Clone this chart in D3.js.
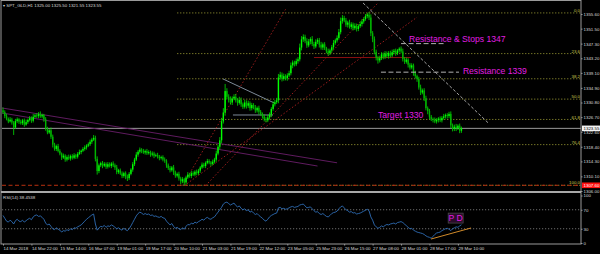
<!DOCTYPE html>
<html>
<head>
<meta charset="utf-8">
<script src="https://d3js.org/d3.v7.min.js"></script>
<style>
  body { margin: 0; background: #000; }
  svg { display: block; font-family: "Liberation Sans", Arial, sans-serif; }
</style>
</head>
<body>
<div id="chart"></div>
<script>
// ---- data (H1 gold, 259 bars) ----
const timeLabels = ["14 Mar 2018", "14 Mar 22:00", "15 Mar 14:00", "16 Mar 07:00", "19 Mar 01:00", "19 Mar 17:00",
  "20 Mar 10:00", "21 Mar 03:00", "21 Mar 19:00", "22 Mar 12:00", "23 Mar 05:00", "25 Mar 23:00",
  "26 Mar 15:00", "27 Mar 08:00", "28 Mar 01:00", "28 Mar 17:00", "29 Mar 10:00"];
const labelEvery = 16;

const firstOpen = 1328.6;
const closes = [
  1328.1, 1327.0, 1326.2, 1325.5, 1326.0, 1325.2, 1323.8, 1325.6, 1326.1, 1325.4,
  1325.0, 1325.8, 1324.6, 1325.3, 1325.9, 1326.4, 1325.7, 1326.8, 1327.2, 1327.0,
  1327.6, 1326.9, 1327.3, 1326.1, 1323.5, 1322.4, 1323.0, 1321.2, 1319.0, 1317.8,
  1318.6, 1317.2, 1316.5, 1315.4, 1315.9, 1314.8, 1315.5, 1315.1, 1315.8, 1315.3,
  1316.0, 1315.6, 1316.4, 1316.9, 1317.3, 1317.8, 1318.2, 1318.7, 1319.1, 1319.8,
  1320.4, 1320.9, 1315.0, 1311.6, 1313.2, 1313.8, 1313.1, 1313.6, 1312.8, 1313.5,
  1313.0, 1313.7, 1313.2, 1312.6, 1311.3, 1311.8, 1310.9, 1310.2, 1311.0, 1310.0,
  1309.6, 1310.8, 1312.0, 1313.5, 1314.8, 1316.2, 1317.0, 1317.6, 1317.3, 1316.8,
  1317.2, 1316.6, 1316.9, 1316.2, 1316.5, 1315.9, 1316.1, 1315.6, 1315.2, 1315.5,
  1314.8, 1314.5, 1313.2, 1312.4, 1311.8, 1312.6, 1311.2, 1310.3, 1310.8, 1309.5,
  1308.7, 1309.3, 1308.4, 1309.8, 1310.6, 1310.2, 1311.0, 1310.6, 1311.4, 1311.0,
  1311.7, 1312.6, 1313.4, 1313.0, 1313.9, 1314.4, 1314.0, 1313.6, 1314.2, 1314.8,
  1316.5, 1318.4, 1320.2, 1325.5, 1328.0, 1334.0, 1332.4, 1331.6, 1330.8, 1331.9,
  1332.4, 1331.4, 1330.7, 1331.5, 1330.3, 1329.6, 1330.8, 1329.9, 1330.6, 1329.2,
  1330.1, 1329.4, 1328.6, 1329.3, 1328.2, 1327.6, 1326.9, 1326.2, 1325.8, 1326.6,
  1327.4, 1329.0, 1330.3, 1330.9, 1331.4, 1337.8, 1338.6, 1337.4, 1338.2, 1337.6,
  1338.4, 1339.0, 1341.2, 1342.0, 1341.5, 1342.4, 1342.9, 1346.2, 1348.5, 1349.2,
  1348.0, 1346.8, 1347.9, 1348.6, 1347.2, 1346.5, 1347.8, 1348.3, 1347.0, 1346.2,
  1347.1, 1346.0, 1345.2, 1344.6, 1345.4, 1346.3, 1347.5, 1348.2, 1348.9, 1350.5,
  1353.6, 1354.5, 1353.8, 1352.6, 1353.2, 1352.0, 1352.7, 1351.6, 1352.3, 1351.4,
  1352.2, 1352.8, 1353.5, 1354.2, 1355.0, 1355.4, 1354.6, 1350.2, 1348.6, 1345.0,
  1343.4, 1342.6, 1343.2, 1344.3, 1343.6, 1344.5, 1343.8, 1344.7, 1344.0, 1344.9,
  1345.3, 1344.6, 1345.4, 1345.9, 1345.1, 1343.0, 1342.2, 1342.8, 1341.4, 1340.6,
  1341.2, 1339.0, 1338.2, 1337.4, 1335.0, 1333.6, 1334.2, 1332.0, 1329.2, 1328.4,
  1326.8, 1326.2, 1326.0, 1325.5, 1325.9, 1326.3, 1325.8, 1326.5, 1326.9, 1327.3,
  1327.0, 1327.6, 1324.4, 1323.4, 1324.0, 1323.6, 1324.3, 1322.9, 1323.55
];
// how far each wick pokes out of the body
const wickUp = [
  .8,.5,.6,.4,.7,.5,.4,.6,.5,.3, .6,.4,.5,.7,.4,.6,.5,.8,.4,.6, .5,.7,.4,.3,.6,.5,.4,.8,.6,.5,
  .4,.6,.5,.3,.6,.4,.5,.7,.4,.5, .6,.4,.5,.7,.3,.5,.6,.4,.5,.6, .5,.8,.6,.7,.5,.4,.6,.5,.4,.6,
  .5,.4,.6,.5,.7,.4,.5,.6,.4,.5, .6,.5,.4,.6,.5,.7,.5,.6,.4,.5, .4,.6,.5,.4,.6,.5,.4,.6,.5,.4,
  .5,.6,.4,.5,.6,.4,.7,.5,.4,.6, .5,.6,.4,.5,.7,.4,.6,.5,.4,.6, .5,.4,.6,.5,.4,.6,.5,.4,.6,.5,
  .8,.6,.9,1.0,1.2,2.0,.8,.7,.9,.6, .7,.8,.6,.9,.7,.5,.8,.6,.7,.5, .6,.5,.7,.4,.6,.5,.4,.6,.5,.7,
  .6,.5,.8,.6,.7,1.0,.8,.6,.7,.5, .6,.7,.8,.6,.5,.7,.6,1.1,.9,.7, .6,.8,.7,.5,.8,.6,.7,.5,.6,.8,
  .5,.6,.4,.7,.5,.6,.8,.5,.7,.9, 1.0,.8,.6,.7,.5,.8,.6,.5,.7,.6, .5,.7,.6,.5,.6,.5,.8,.9,.6,.7,
  .6,.5,.7,.6,.5,.7,.6,.5,.6,.7, .5,.6,.4,.4,.6,.8,.5,.6,.4,.5, .6,.5,.7,.4,.6,.8,.5,.6,.7,.5,
  .6,.5,.4,.6,.5,.4,.6,.5,.7,.4, .5,.6,.7,.5,.6,.8,.4,.6,.5
];
const wickDn = [
  .5,.6,.4,.5,.3,.6,2.1,.4,.5,.6, .4,.5,.6,.3,.5,.4,.6,.5,.4,.5, .6,.4,.5,.7,.6,.5,.4,.6,.8,.5,
  .6,.4,.5,.7,.4,.6,.5,.4,.6,.5, .4,.6,.5,.3,.6,.4,.5,.6,.4,.5, .6,.4,.7,1.0,.6,.5,.7,.4,.6,.5,
  .4,.6,.5,.7,.6,.5,.4,.6,.5,.7, .8,.5,.4,.6,.5,.4,.6,.5,.7,.4, .6,.5,.4,.6,.5,.7,.4,.5,.6,.4,
  .5,.6,.7,.5,.6,.4,.7,.6,.5,.6, .8,.5,.8,.6,.4,.5,.6,.4,.5,.6, .5,.6,.4,.5,.6,.4,.5,.7,.4,.5,
  .6,.5,.7,.8,.6,.9,.7,.8,.6,.7, .5,.6,.8,.5,.7,.6,.5,.8,.6,.7, .6,.5,.7,.6,.8,.5,.6,.7,.6,.5,
  .6,.7,.5,.6,.5,.8,.6,.7,.5,.6, .7,.5,.6,.8,.6,.5,.7,.6,.8,.7, .6,.7,.5,.8,.6,.7,.5,.6,.8,.6,
  .7,.5,.6,.7,.5,.6,.7,.5,.6,.5, .6,.7,.5,.6,.8,.5,.7,.6,.5,.7, .6,.5,.7,.6,.5,.6,.7,.8,.9,.7,
  .8,.9,.6,.5,.7,.6,.5,.7,.6,.5, .6,.7,.5,.6,.5,.7,.6,.5,.8,.6, .5,.7,.6,.8,.6,.7,.5,.8,.6,.9,
  .7,.6,.8,.5,.6,.7,.5,.6,.5,.6, .7,.6,.8,.7,.6,.8,.5,.7,.6
];
const rsi = [
  58, 52, 46, 44, 48, 45, 40, 47, 50, 46, 45, 48, 44, 47, 50, 52, 49, 55, 58, 59,
  56, 57, 54, 50, 42, 38, 40, 35, 30, 28, 32, 29, 27, 23, 26, 25, 28, 26, 30, 28,
  32, 31, 34, 36, 38, 42, 46, 50, 53, 56, 59, 61, 40, 27, 32, 35, 34, 37, 33, 36,
  35, 38, 36, 33, 30, 32, 29, 27, 31, 28, 26, 30, 36, 43, 50, 57, 62, 65, 63, 60,
  62, 60, 61, 58, 59, 56, 57, 55, 54, 56, 53, 52, 46, 42, 38, 41, 35, 31, 33, 30,
  28, 32, 29, 35, 39, 38, 42, 40, 44, 42, 45, 47, 50, 48, 52, 54, 51, 50, 53, 55,
  60, 65, 70, 75, 82, 85, 86, 83, 80, 82, 84, 79, 76, 78, 73, 70, 72, 68, 70, 65,
  67, 63, 60, 62, 58, 55, 52, 48, 46, 50, 55, 58, 60, 62, 63, 74, 75, 72, 73, 71,
  72, 74, 76, 77, 75, 76, 77, 80, 81, 82, 78, 74, 75, 76, 72, 68, 65, 66, 62, 60,
  62, 59, 56, 55, 58, 62, 64, 65, 67, 72, 76, 78, 74, 70, 68, 65, 66, 63, 64, 61,
  62, 63, 65, 67, 69, 71, 68, 55, 48, 38, 34, 31, 33, 36, 34, 37, 39, 38, 40, 41,
  42, 40, 43, 44, 45, 43, 40, 36, 33, 30, 31, 27, 25, 23, 22, 21, 20, 18, 15, 13,
  12, 10, 14, 18, 21, 22, 23, 26, 28, 30, 31, 29, 26, 30, 32, 34, 33, 36, 38.45
];

const titleText = "SPT_GLD,H1  1325.00 1325.50 1321.55 1323.55";
const rsiTitle = "RSI(14) 38.4538";
const priceTicks = [1355.60, 1351.50, 1347.30, 1343.20, 1339.10, 1334.90, 1330.80, 1326.70,
  1322.60, 1318.40, 1314.30, 1310.10, 1306.00];
const rsiTicks = [100, 70, 30, 0];
const rsiLevels = [70, 30];

// fibonacci retracement, anchored at the swing low / high
const fibHigh = 1355.9, fibLow = 1307.6, fibStartBar = 98;
const fibLevels = [0.0, 23.6, 38.2, 50.0, 61.8, 76.4, 100.0];

// hand drawn objects, in [bar, price] anchors
const purpleLines = [[[-1, 1329.3], [188, 1313.9]], [[-1, 1327.9], [177, 1313.0]]];
const fanLines = [[[101, 1307.5], [159, 1356.9]], [[114, 1307.5], [211, 1358.7]], [[102, 1307.5], [233, 1354.7]]];
const triangleLines = [[[123.8, 1337.4], [152.5, 1330.7]], [[129.4, 1327.3], [151.9, 1327.3]]];
const fallLine = [[202.6, 1358.7], [273, 1325.1]];
const redLevel = [[175, 1343.4], [229.6, 1343.4]];
const supportLevel = 1307.6;
const resistLines = [
  { from: 224, to: 249.3, price: 1347.3, label: "Resistance & Stops 1347", at: [228.5, 1347.7] },
  { from: 212.7, to: 256.6, price: 1339.3, label: "Resistance 1339", at: [258.8, 1338.9] }
];
const targetNote = { label: "Target 1330", at: [211, 1326.4] };
const rsiTrend = [[240.9, 8.4], [263.4, 31.6]];
const rsiNote = { label: "P D", at: [250.5, 63] };
</script>
<script>
const W = 600, H = 254;
const plotL = 2, plotR = 581, mainT = 2, mainB = 191, rsiT = 193, rsiB = 244;
const BAR = 1.777;
const axisFont = 4.4;

const svg = d3.select("#chart").append("svg").attr("width", W).attr("height", H);
svg.append("rect").attr("width", W).attr("height", H).attr("fill", "#000");

const x = d3.scaleLinear().domain([0, closes.length - 1]).range([3, 3 + (closes.length - 1) * BAR]);
const y = d3.scaleLinear().domain([1306.0, 1355.6]).range([191, 14]);
const yr = d3.scaleLinear().domain([0, 100]).range([243, 195.5]);

const candles = closes.map((c, i) => {
  const o = i === 0 ? firstOpen : closes[i - 1];
  return { i, o, c, h: Math.max(o, c) + wickUp[i], l: Math.min(o, c) - wickDn[i] };
});

svg.append("clipPath").attr("id", "mainClip").append("rect")
  .attr("x", plotL).attr("y", mainT).attr("width", plotR - plotL).attr("height", mainB - mainT);
svg.append("clipPath").attr("id", "rsiClip").append("rect")
  .attr("x", plotL).attr("y", rsiT).attr("width", plotR - plotL).attr("height", rsiB - rsiT);

const main = svg.append("g").attr("clip-path", "url(#mainClip)");
const line2 = (g, a, b) => g.append("line")
  .attr("x1", x(a[0])).attr("y1", y(a[1])).attr("x2", x(b[0])).attr("y2", y(b[1]));

// fibo levels
fibLevels.forEach(lv => {
  const p = fibHigh - (fibHigh - fibLow) * lv / 100;
  main.append("line").attr("x1", x(fibStartBar)).attr("x2", plotR - 1)
    .attr("y1", y(p)).attr("y2", y(p))
    .attr("stroke", "#a8a838").attr("stroke-width", 0.8).attr("stroke-dasharray", "1.2,1.8");
  main.append("text").attr("x", plotR - 1).attr("y", y(p) - 0.8).attr("text-anchor", "end")
    .attr("font-size", axisFont).attr("fill", "#c8c850").text(lv.toFixed(1));
});

// support (dashed red) and bid line
main.append("line").attr("x1", plotL).attr("x2", plotR).attr("y1", y(supportLevel)).attr("y2", y(supportLevel))
  .attr("stroke", "#b83010").attr("stroke-width", 1).attr("stroke-dasharray", "4,2.5");
const bid = closes[closes.length - 1];
main.append("line").attr("x1", plotL).attr("x2", plotR).attr("y1", y(bid)).attr("y2", y(bid))
  .attr("stroke", "#9a9a9a").attr("stroke-width", 1);

// purple channel
purpleLines.forEach(([a, b]) => line2(main, a, b).attr("stroke", "#6a1e6a").attr("stroke-width", 0.9));
// red fan
fanLines.forEach(([a, b]) => line2(main, a, b).attr("stroke", "#9a1c1c").attr("stroke-width", 1)
  .attr("stroke-dasharray", "1.5,2"));
line2(main, redLevel[0], redLevel[1]).attr("stroke", "#8c1010").attr("stroke-width", 1);
// triangle
triangleLines.forEach(([a, b]) => line2(main, a, b).attr("stroke", "#7d8a98").attr("stroke-width", 1));
line2(main, fallLine[0], fallLine[1]).attr("stroke", "#b4b4b4").attr("stroke-width", 0.9)
  .attr("stroke-dasharray", "3,2");

// candles
const cg = main.append("g");
cg.selectAll("line.wick").data(candles).join("line").attr("class", "wick")
  .attr("x1", d => x(d.i)).attr("x2", d => x(d.i))
  .attr("y1", d => y(d.h)).attr("y2", d => y(d.l))
  .attr("stroke", "#00e000").attr("stroke-width", 0.8);
cg.selectAll("rect").data(candles).join("rect")
  .attr("x", d => x(d.i) - 0.7).attr("width", 1.4)
  .attr("y", d => y(Math.max(d.o, d.c)))
  .attr("height", d => Math.max(0.8, Math.abs(y(d.o) - y(d.c))))
  .attr("fill", d => d.c >= d.o ? "#00ff00" : "#00b400");

// resistance lines + notes
resistLines.forEach(r => {
  main.append("line").attr("x1", x(r.from)).attr("x2", x(r.to)).attr("y1", y(r.price)).attr("y2", y(r.price))
    .attr("stroke", "#b0b0b0").attr("stroke-width", 1).attr("stroke-dasharray", "5,2.5");
  main.append("text").attr("x", x(r.at[0])).attr("y", y(r.at[1])).attr("font-size", 8.6)
    .attr("fill", "#e21ee2").text(r.label);
});
main.append("text").attr("x", x(targetNote.at[0])).attr("y", y(targetNote.at[1])).attr("font-size", 8.6)
  .attr("fill", "#e21ee2").text(targetNote.label);

// title
svg.append("text").attr("x", 3).attr("y", 7).attr("font-size", axisFont).attr("fill", "#d8d8d8")
  .text("\u25BE " + titleText);

// ---- RSI pane ----
const rg = svg.append("g").attr("clip-path", "url(#rsiClip)");
rsiLevels.forEach(v => rg.append("line").attr("x1", plotL).attr("x2", plotR).attr("y1", yr(v)).attr("y2", yr(v))
  .attr("stroke", "#8a8a8a").attr("stroke-width", 0.8).attr("stroke-dasharray", "1.2,1.8"));
rg.append("path").datum(rsi)
  .attr("d", d3.line().x((d, i) => x(i)).y(d => yr(d)))
  .attr("fill", "none").attr("stroke", "#2f6db5").attr("stroke-width", 0.9);
rg.append("line").attr("x1", x(rsiTrend[0][0])).attr("y1", yr(rsiTrend[0][1]))
  .attr("x2", x(rsiTrend[1][0])).attr("y2", yr(rsiTrend[1][1]))
  .attr("stroke", "#d08a2a").attr("stroke-width", 1);
const pd = rg.append("g").attr("transform", `translate(${x(rsiNote.at[0])},${yr(rsiNote.at[1])})`);
pd.append("rect").attr("width", 15).attr("height", 10).attr("fill", "#2a0c2a").attr("stroke", "#5a5a5a").attr("stroke-width", 0.6);
pd.append("text").attr("x", 7.5).attr("y", 8.3).attr("text-anchor", "middle").attr("font-size", 8.6)
  .attr("fill", "#e21ee2").text(rsiNote.label);
svg.append("text").attr("x", 3).attr("y", 199).attr("font-size", axisFont).attr("fill", "#d8d8d8").text(rsiTitle);

// ---- frame ----
svg.append("rect").attr("x", 1).attr("y", 0.5).attr("width", plotR - 1).attr("height", rsiB - 0.5)
  .attr("fill", "none").attr("stroke", "#9a9a9a").attr("stroke-width", 1);
svg.append("rect").attr("x", 1).attr("y", mainB).attr("width", plotR - 1).attr("height", 2).attr("fill", "#a8a8a8");

// price axis
const pAxis = svg.append("g").attr("transform", `translate(${plotR},0)`)
  .call(d3.axisRight(y).tickValues(priceTicks).tickSize(1.5).tickFormat(d => d.toFixed(2)));
pAxis.select(".domain").remove();
pAxis.selectAll("line").attr("stroke", "#9a9a9a");
pAxis.selectAll("text").attr("font-size", axisFont).attr("fill", "#d8d8d8").attr("x", 2.5);

const boxLabel = (p, fill, col) => {
  const g = svg.append("g").attr("transform", `translate(${plotR + 1},${y(p)})`);
  g.append("rect").attr("x", 0).attr("y", -2.8).attr("width", W - plotR - 1).attr("height", 5.6).attr("fill", fill);
  g.append("text").attr("x", 1.5).attr("y", 1.6).attr("font-size", axisFont).attr("fill", col).text(p.toFixed(2));
};
boxLabel(bid, "#f4f4f4", "#000");
boxLabel(supportLevel, "#ff1010", "#fff");

const rAxis = svg.append("g").attr("transform", `translate(${plotR},0)`)
  .call(d3.axisRight(yr).tickValues(rsiTicks).tickSize(1.5).tickFormat(d3.format("d")));
rAxis.select(".domain").remove();
rAxis.selectAll("line").attr("stroke", "#9a9a9a");
rAxis.selectAll("text").attr("font-size", axisFont).attr("fill", "#d8d8d8").attr("x", 2.5);

// time axis
const tAxis = svg.append("g").attr("transform", `translate(0,${rsiB})`)
  .call(d3.axisBottom(x).tickValues(timeLabels.map((t, k) => k * labelEvery)).tickSize(1.5)
    .tickFormat((d, k) => timeLabels[k]));
tAxis.select(".domain").remove();
tAxis.selectAll("line").attr("stroke", "#9a9a9a");
tAxis.selectAll("text").attr("font-size", axisFont).attr("fill", "#d8d8d8").attr("text-anchor", "start").attr("y", 3);
</script>
</body>
</html>
